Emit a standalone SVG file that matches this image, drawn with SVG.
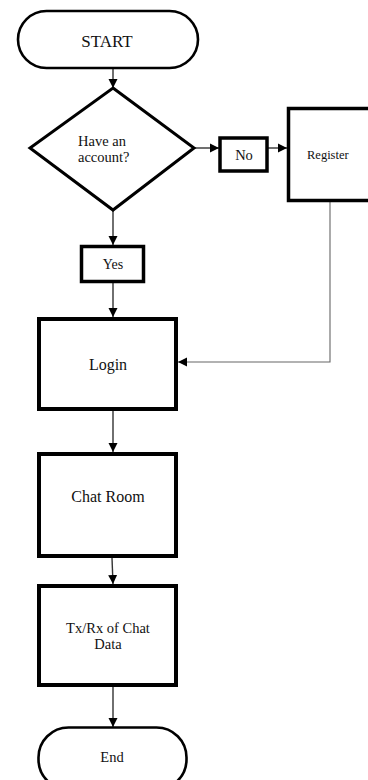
<svg xmlns="http://www.w3.org/2000/svg" width="368" height="780" viewBox="0 0 368 780">
<style>
.box{fill:#fff;stroke:#000;stroke-width:4}
.sm{fill:#fff;stroke:#000;stroke-width:3.5}
.term{fill:#fff;stroke:#000;stroke-width:2.6}
text{font-family:'Liberation Serif','DejaVu Serif',serif;fill:#111}
.c{stroke:#333;stroke-width:1.4;fill:none}
.thin{stroke:#666;stroke-width:1.1;fill:none}
</style>
<defs>
<marker id="ah" markerUnits="userSpaceOnUse" markerWidth="10" markerHeight="10" refX="9" refY="5" orient="auto">
<path d="M0,0.5 L9,5 L0,9.5 Z" fill="#000"/>
</marker>
</defs>
<rect width="368" height="780" fill="#fff"/>
<g id="connectors">
<line class="c" x1="113" y1="69" x2="113" y2="88" marker-end="url(#ah)"/>
<line class="c" x1="194" y1="148" x2="219" y2="148" marker-end="url(#ah)"/>
<line class="c" x1="267" y1="148" x2="287" y2="148" marker-end="url(#ah)"/>
<line class="c" x1="113" y1="210" x2="113" y2="245" marker-end="url(#ah)"/>
<line class="c" x1="113" y1="283" x2="113" y2="317" marker-end="url(#ah)"/>
<polyline class="thin" points="330,201 330,362 178,362" marker-end="url(#ah)"/>
<line class="c" x1="113" y1="411" x2="113" y2="452" marker-end="url(#ah)"/>
<line class="c" x1="112" y1="558" x2="113" y2="584" marker-end="url(#ah)"/>
<line class="c" x1="113" y1="687" x2="113" y2="727" marker-end="url(#ah)"/>
</g>
<g id="start">
<rect class="term" x="18" y="11" width="180" height="57" rx="28.5"/>
<text font-family="Liberation Serif, serif" x="107" y="47" font-size="17" text-anchor="middle">START</text>
</g>
<g id="decision">
<polygon class="term" style="stroke-width:3" points="113,88 194,148 113,210 30,148"/>
<text font-family="Liberation Serif, serif" x="78" y="146" font-size="14.5">Have an</text>
<text font-family="Liberation Serif, serif" x="78" y="162" font-size="14.5">account?</text>
</g>
<g id="no">
<rect class="sm" x="220" y="138" width="47" height="33"/>
<text font-family="Liberation Serif, serif" x="244" y="160" font-size="14.5" text-anchor="middle">No</text>
</g>
<g id="register">
<rect class="sm" x="288.5" y="108.5" width="95" height="92"/>
<text font-family="Liberation Serif, serif" x="307" y="159" font-size="12.5">Register</text>
</g>
<g id="yes">
<rect class="sm" x="81.5" y="246.5" width="62" height="35"/>
<text font-family="Liberation Serif, serif" x="113" y="269" font-size="14" text-anchor="middle">Yes</text>
</g>
<g id="login">
<rect class="box" x="39" y="319" width="137" height="90"/>
<text font-family="Liberation Serif, serif" x="108" y="370" font-size="16" text-anchor="middle">Login</text>
</g>
<g id="chatroom">
<rect class="box" x="39" y="454" width="137" height="102"/>
<text font-family="Liberation Serif, serif" x="108" y="502" font-size="16" text-anchor="middle">Chat Room</text>
</g>
<g id="txrx">
<rect class="box" x="39" y="586" width="137" height="99"/>
<text font-family="Liberation Serif, serif" x="108" y="633" font-size="14.5" text-anchor="middle">Tx/Rx of Chat</text>
<text font-family="Liberation Serif, serif" x="108" y="649" font-size="14.5" text-anchor="middle">Data</text>
</g>
<g id="end">
<rect class="term" x="38.5" y="727.5" width="148" height="62" rx="30"/>
<text font-family="Liberation Serif, serif" x="112" y="762" font-size="14.5" text-anchor="middle">End</text>
</g>
</svg>
